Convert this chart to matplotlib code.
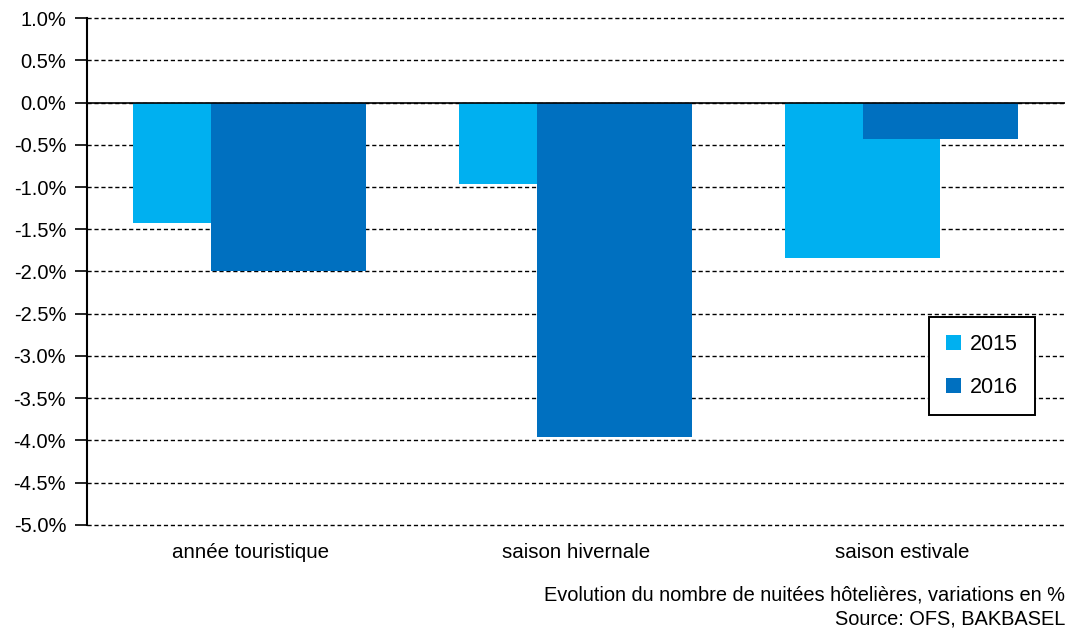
import matplotlib
matplotlib.use("Agg")
import matplotlib.pyplot as plt
import numpy as np
from matplotlib.ticker import FuncFormatter

plt.rcParams["font.family"] = ["Liberation Sans", "DejaVu Sans"]

categories = ["année touristique", "saison hivernale", "saison estivale"]
years = ["2015", "2016"]
values_2015 = [-1.43, -0.96, -1.84]
values_2016 = [-2.00, -3.96, -0.43]
colors = ["#00B0F0", "#0070C0"]

fig = plt.figure(figsize=(10.72, 6.30), dpi=100)
ax = fig.add_axes([0.0812, 0.1667, 0.9123, 0.8047])

x = np.arange(len(categories))
width = 0.475
ax.bar(x - 0.121, values_2015, width, color=colors[0], label=years[0], zorder=2)
ax.bar(x + 0.118, values_2016, width, color=colors[1], label=years[1], zorder=3)

ax.set_xlim(-0.5, 2.5)
ax.set_ylim(-5.0, 1.0)
ax.set_yticks(np.arange(-5.0, 1.01, 0.5))
ax.yaxis.set_major_formatter(FuncFormatter(lambda v, p: f"{v:.1f}%"))
ax.yaxis.grid(True, color="black", linestyle=(0, (3, 2)), linewidth=1.0, zorder=1)
ax.set_axisbelow(True)
for gl in ax.get_ygridlines():
    gl.set_clip_on(False)
ax.axhline(0, color="black", linewidth=1.2, zorder=4)

ax.set_xticks(x)
ax.set_xticklabels(categories, fontsize=14.8)
ax.tick_params(axis="x", length=0, pad=13)
ax.tick_params(axis="y", direction="out", length=9, width=1.2, labelsize=14.5, pad=6)

for side in ["top", "right", "bottom"]:
    ax.spines[side].set_visible(False)
ax.spines["left"].set_linewidth(1.5)

leg = ax.legend(loc="upper left", bbox_to_anchor=(0.861, 0.41), frameon=True, fancybox=False,
                edgecolor="black", framealpha=1, fontsize=15.5, handlelength=0.7,
                handleheight=0.7, labelspacing=1.0, borderpad=0.8, handletextpad=0.4,
                borderaxespad=0)
leg.get_frame().set_linewidth(1.4)
leg.get_frame().set_edgecolor("black")
leg.set_zorder(5)

fig.text(0.9935, 0.055, "Evolution du nombre de nuitées hôtelières, variations en %",
         ha="right", va="center", fontsize=14.4)
fig.text(0.9935, 0.017, "Source: OFS, BAKBASEL", ha="right", va="center", fontsize=14.4)

fig.savefig("out.png", dpi=100)
